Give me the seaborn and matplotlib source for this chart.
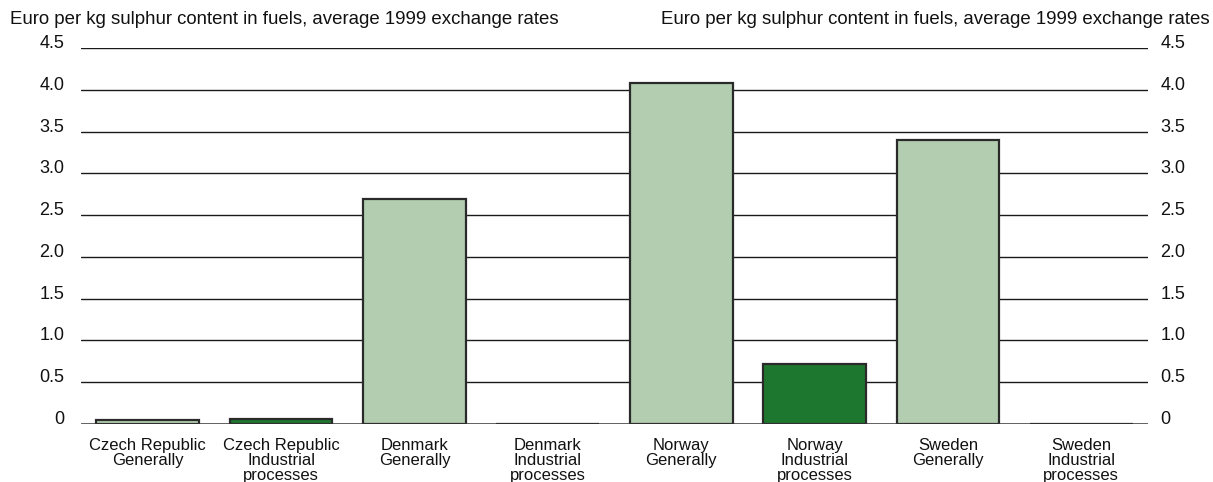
import matplotlib
matplotlib.use("Agg")
import matplotlib.pyplot as plt
import seaborn as sns
import pandas as pd

categories = ["Czech Republic\nGenerally", "Czech Republic\nIndustrial\nprocesses",
              "Denmark\nGenerally", "Denmark\nIndustrial\nprocesses",
              "Norway\nGenerally", "Norway\nIndustrial\nprocesses",
              "Sweden\nGenerally", "Sweden\nIndustrial\nprocesses"]
values = [0.05, 0.06, 2.69, 0.0, 4.08, 0.72, 3.40, 0.0]
scope = ["Generally", "Industrial", "Generally", "Industrial",
         "Generally", "Industrial", "Generally", "Industrial"]
yticks = [0, 0.5, 1.0, 1.5, 2.0, 2.5, 3.0, 3.5, 4.0, 4.5]
ytick_labels = ["0", "0.5", "1.0", "1.5", "2.0", "2.5", "3.0", "3.5", "4.0", "4.5"]
axis_title = "Euro per kg sulphur content in fuels, average 1999 exchange rates"

sns.set_theme(style="white")
plt.rcParams['font.family'] = ['Liberation Sans', 'DejaVu Sans']

df = pd.DataFrame({"cat": categories, "val": values, "scope": scope})

W, H = 1213, 482
fig = plt.figure(figsize=(W / 100, H / 100), dpi=100)
ax = fig.add_axes([81 / W, 58 / H, (1148 - 81) / W, (424 - 48) / H])

sns.barplot(data=df, x="cat", y="val", hue="scope",
            palette={"Generally": "#b2cdb0", "Industrial": "#1e772e"},
            saturation=1, dodge=False, width=0.77, edgecolor="#2a2a2a",
            linewidth=1.6, legend=False, ax=ax, zorder=3)

ax.set_ylim(0, 4.5)
ax.set_xlim(-0.5, len(categories) - 0.5)
ax.set_yticks(yticks)
ax.set_yticklabels(ytick_labels)
for y in yticks[1:]:
    ax.axhline(y, color="#1a1a1a", linewidth=1.0, zorder=1)
ax.axhline(0, color="#333333", linewidth=1.8, zorder=4)

ax2 = ax.twinx()
ax2.set_ylim(0, 4.5)
ax2.set_yticks(yticks)
ax2.set_yticklabels(ytick_labels)

for a in (ax, ax2):
    for s in ["top", "left", "right", "bottom"]:
        a.spines[s].set_visible(False)

ax.tick_params(axis="y", left=False, right=False, labelleft=True,
               labelright=False, labelsize=13, length=0, pad=12, colors="#111111")
ax2.tick_params(axis="y", left=False, right=False, labelleft=False,
                labelright=True, labelsize=13, length=0, pad=9, colors="#111111")
for lbl in ax.get_yticklabels() + ax2.get_yticklabels():
    lbl.set_verticalalignment("baseline")
ax.tick_params(axis="x", bottom=False, length=0, labelsize=12, pad=10, colors="#111111")
for lbl in ax.get_xticklabels():
    lbl.set_linespacing(1.0)
    lbl.set_verticalalignment("top")
ax.set_xlabel("")
ax.set_ylabel("")
ax2.set_ylabel("")

fig.text(10 / W, 1 - 20 / H, axis_title, ha="left", va="center", fontsize=13.4, color="#111111")
fig.text(1210 / W, 1 - 20 / H, axis_title, ha="right", va="center", fontsize=13.4, color="#111111")

fig.savefig("out.png", dpi=100, facecolor="white")
